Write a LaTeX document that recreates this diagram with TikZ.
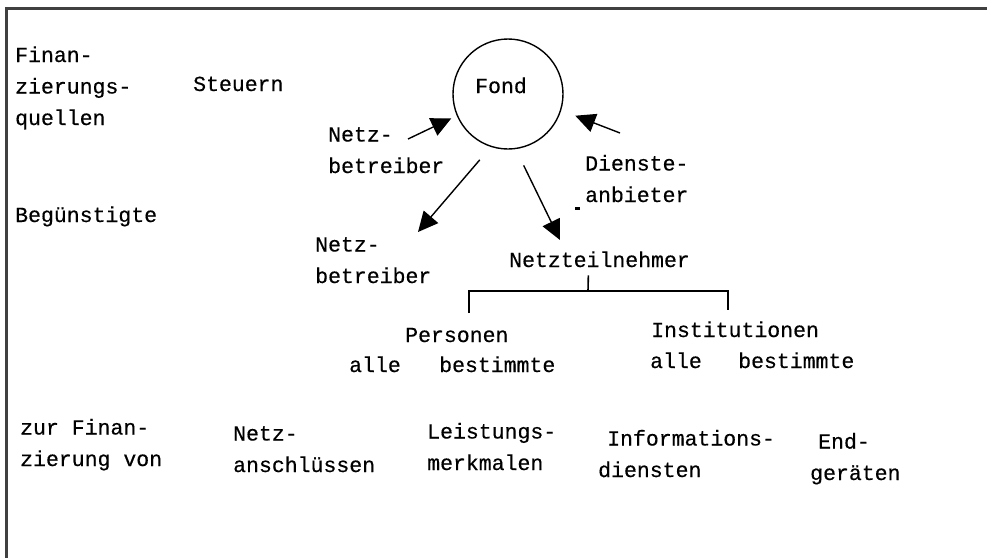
\documentclass[tikz,border=0pt]{standalone}
\usepackage{fontspec}
\newfontfamily\diafont[FakeBold=0.4]{Liberation Mono}
\usetikzlibrary{arrows.meta,positioning}

\begin{document}
\begin{tikzpicture}[x=1pt, y=-1pt,
  lbl/.style = {font=\diafont\fontsize{21.5}{31.5}\selectfont, inner sep=0pt, align=left, anchor=base west},
  fund/.style = {draw, circle, line width=1.4pt, minimum size=110pt, inner sep=0pt},
  arrow/.style = {line width=1.4pt, -{Triangle[length=20pt, width=19pt]}},
  tree/.style = {line width=1.6pt}
  ]
\useasboundingbox (0,0) rectangle (987,558);

% Frame: top and left edge only
\draw[line width=2.5pt, black!75] (987,8.5) -- (6.5,8.5) -- (6.5,558);

% Row labels on the left (multi-line nodes sit on their last baseline)
\node[lbl] (quellen) at (15,125) {Finan-\\zierungs-\\quellen};
\node[lbl] (beg) at (15,222) {Begünstigte};
\node[lbl] (zurfin) at (20,466) {zur Finan-\\zierung von};

% Top layer: sources
\node[lbl] (steuern) at (193,91) {Steuern};
\node[fund] (fond) at (508,94) {};
\node[lbl, anchor=base] (fondname) at ([xshift=-7pt, yshift=1pt]fond.center) {Fond};
\node[lbl] (nbUp) at (328,173) {Netz-\\betreiber};
\node[lbl] (dienst) at (585,202) {Dienste-\\anbieter};

\coordinate (nbUpTail) at (408,139);
\coordinate (dienstTail) at (620,133);
\draw[arrow, shorten >=6pt] (nbUpTail) -- (fond.203);
\draw[arrow, shorten >=15pt] (dienstTail) -- (fond.343);
\fill (575,207) rectangle (580,210);

% 2nd layer: beneficiaries
\node[lbl] (nbLow) at (315,283) {Netz-\\betreiber};
\node[lbl] (nt) at (509,267) {Netzteilnehmer};

\coordinate (nbLowTip) at (418,232);
\coordinate (ntTip) at (560,240);
\draw[arrow, shorten <=17pt] (fond.252) -- (nbLowTip);
\draw[arrow, shorten <=18pt] (fond.278) -- (ntTip);

% Split of the participants
\node[lbl] (pers) at (405,342) {Personen};
\node[lbl] (inst) at (651,337) {Institutionen};
\node[lbl] (alleP) at (349,372) {alle};
\node[lbl, base right=38pt of alleP] (bestP) {bestimmte};
\node[lbl] (alleI) at (650,368) {alle};
\node[lbl, base right=36pt of alleI] (bestI) {bestimmte};

\coordinate (fork) at (588,291);
\coordinate (persTop) at (469,313);
\coordinate (instTop) at (728,310);
\draw[tree, shorten <=8pt] ([xshift=-11pt]nt.south) -- (fork);
\draw[tree] (persTop) |- (fork) -| (instTop);

% Bottom layer: what is financed
\node[lbl] (anschl) at (233,472) {Netz-\\anschlüssen};
\node[lbl] (merkm) at (427,470) {Leistungs-\\merkmalen};
\node[lbl] (idienst) at (598,477) {\hspace*{9pt}Informations-\\diensten};
\node[lbl] (geraet) at (810,480) {\hspace*{8pt}End-\\geräten};
\end{tikzpicture}
\end{document}
